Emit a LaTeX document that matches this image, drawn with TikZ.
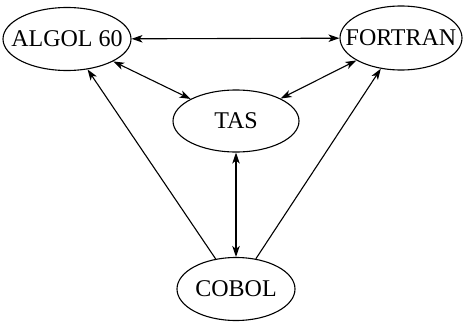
\documentclass[tikz,border=0pt]{standalone}
\usepackage{fontspec}
\setmainfont{Liberation Serif}
\usetikzlibrary{shapes.geometric,arrows.meta}
\begin{document}
\begin{tikzpicture}[x=1pt,y=-1pt,
  lang/.style={draw,ellipse,line width=1.1pt,inner sep=0pt},
  txt/.style={inner sep=0pt,font=\fontsize{24}{26}\selectfont},
  conn/.style={line width=1.1pt,-{Stealth[length=11pt,width=7.5pt,inset=3pt]}},
  bconn/.style={line width=1.1pt,{Stealth[length=11pt,width=7.5pt,inset=3pt]}-{Stealth[length=11pt,width=7.5pt,inset=3pt]}}]
\useasboundingbox (0,0) rectangle (465,321);
\node[lang,minimum width=128pt,minimum height=63pt] (algol) at (67,39) {};
\node[lang,minimum width=122pt,minimum height=64pt] (fortran) at (401,38) {};
\node[lang,minimum width=126pt,minimum height=62pt] (tas) at (236,121) {};
\node[lang,minimum width=118pt,minimum height=63pt] (cobol) at (236,289) {};
\node[txt] (algoltxt) at (algol) {ALGOL 60};
\node[txt] (fortrantxt) at (fortran) {FORTRAN};
\node[txt] (tastxt) at (tas) {TAS};
\node[txt] (coboltxt) at (cobol) {COBOL};
\draw[bconn] (algol) -- (fortran);
\draw[bconn] (algol) -- (tas);
\draw[bconn] (fortran) -- (tas);
\draw[bconn] (tas) -- (cobol);
\draw[conn] (cobol) -- (algol);
\draw[conn] (cobol) -- (fortran);
\end{tikzpicture}
\end{document}
